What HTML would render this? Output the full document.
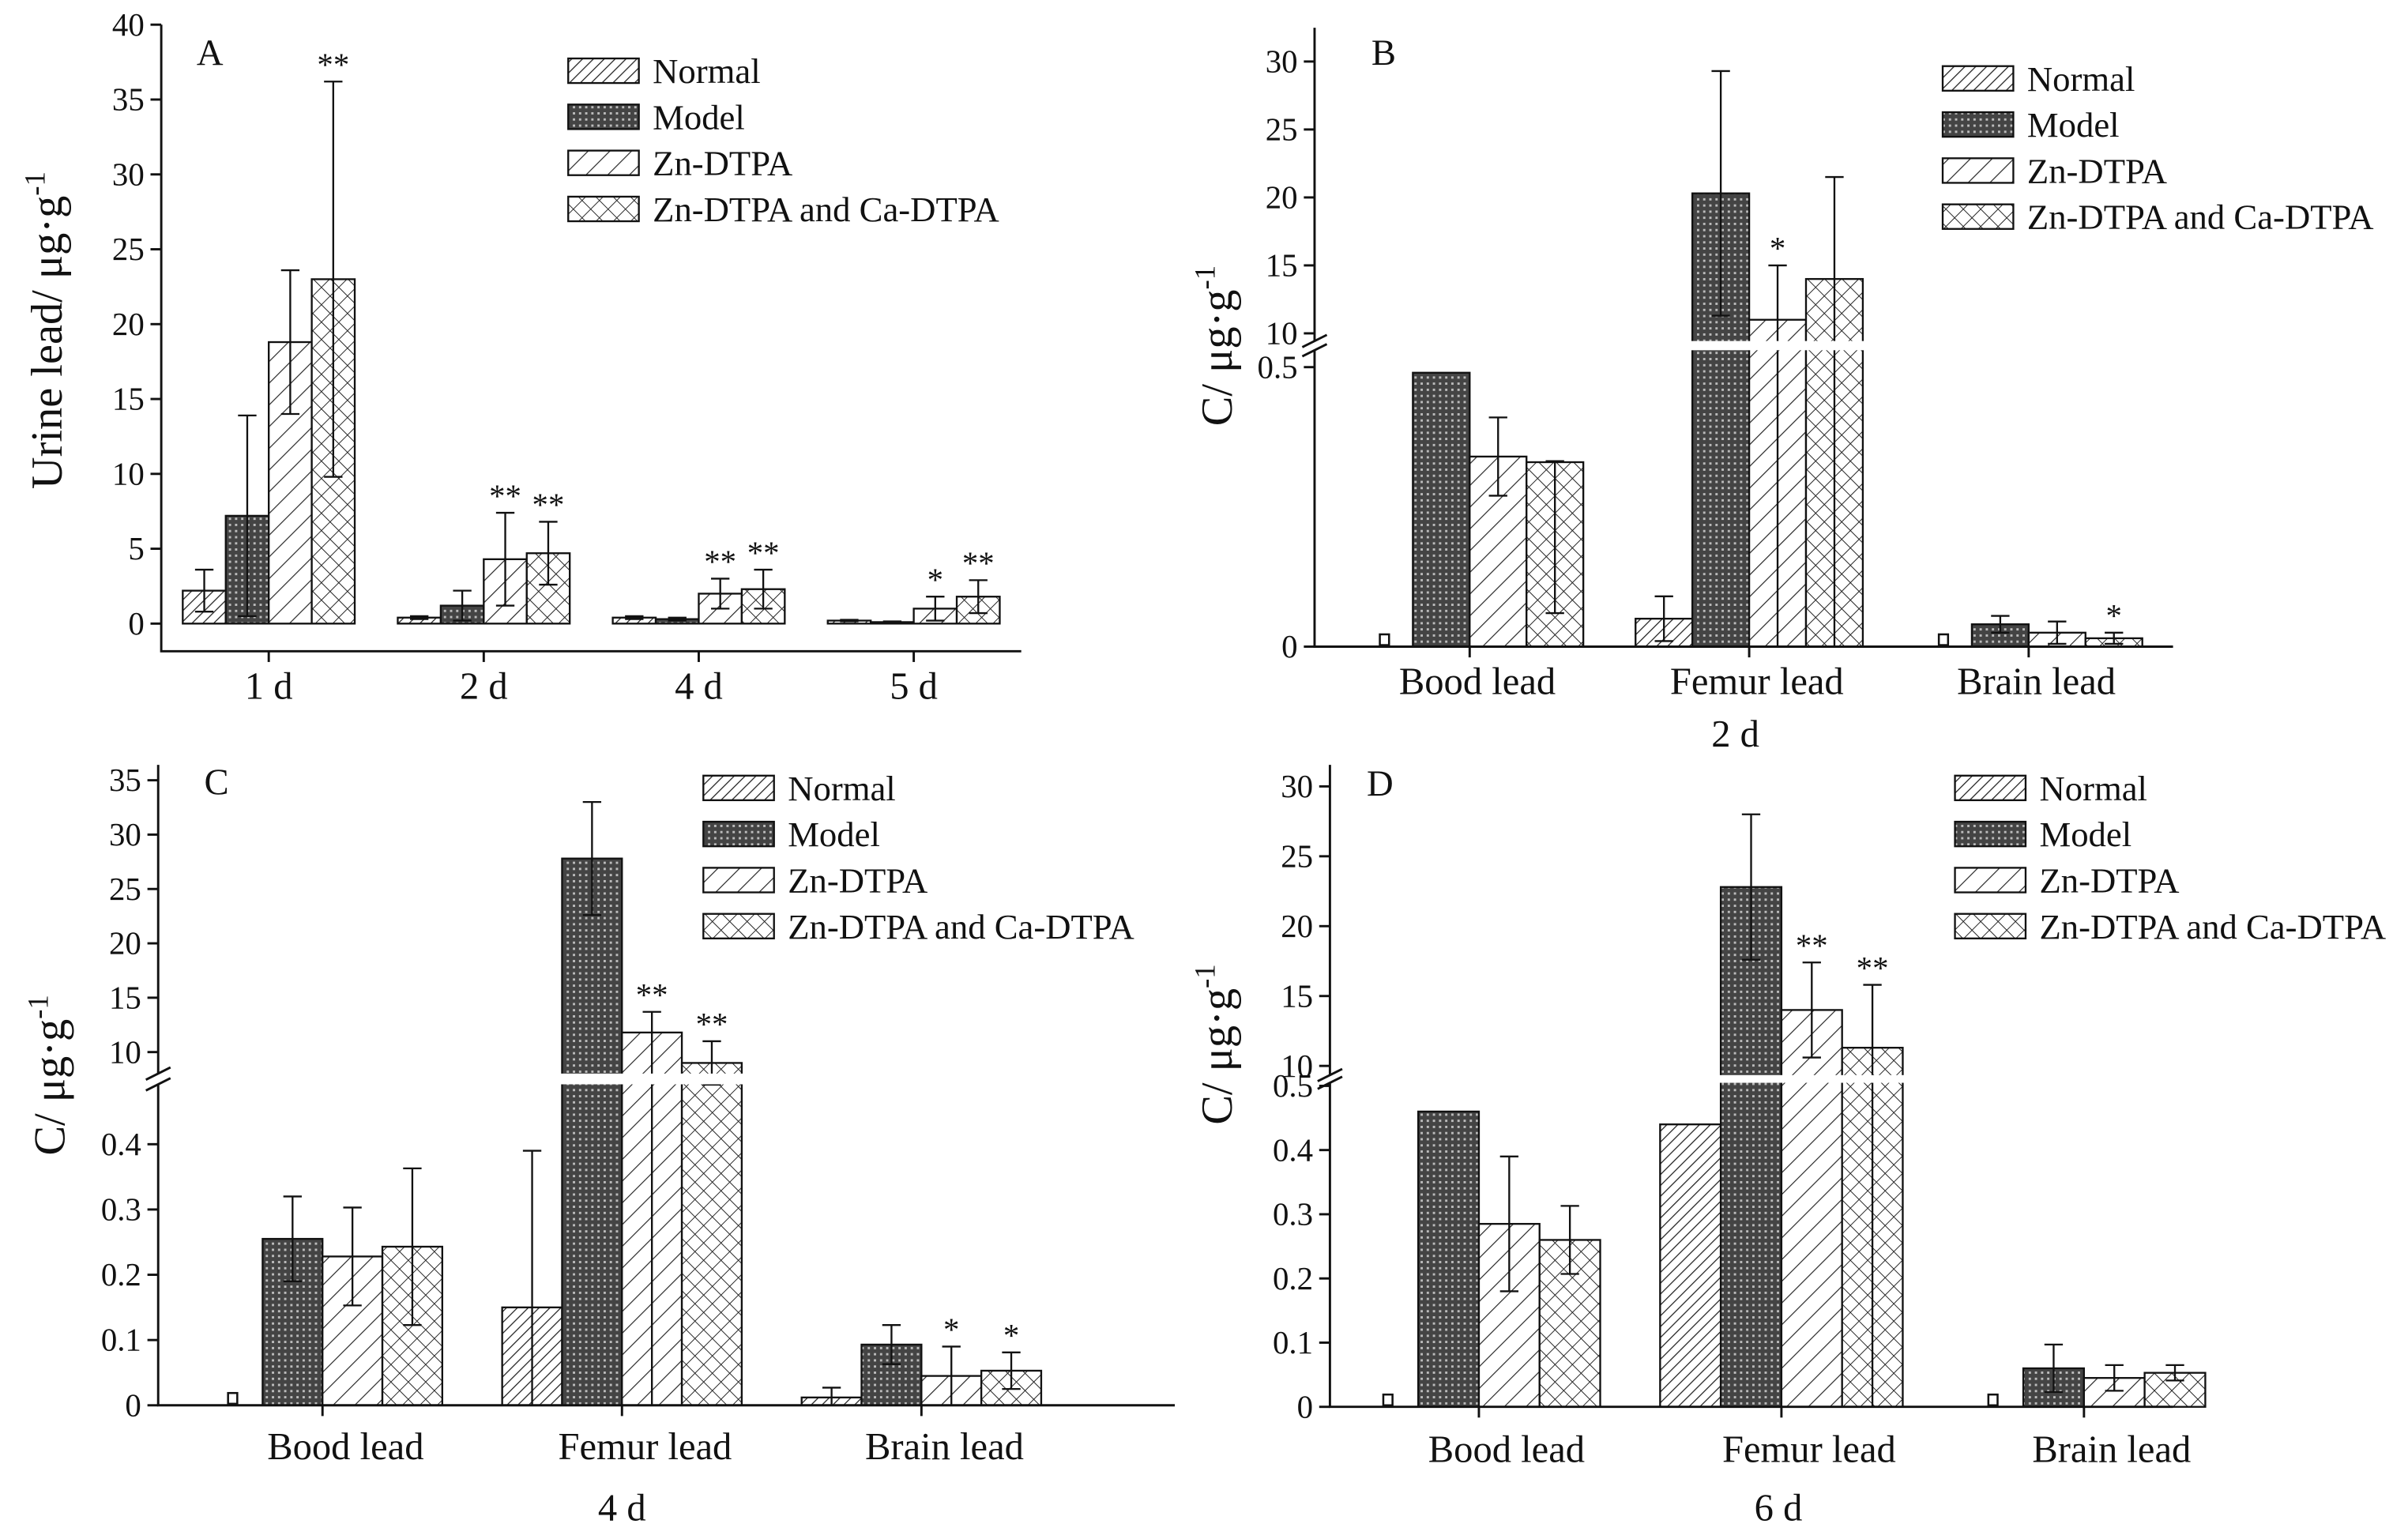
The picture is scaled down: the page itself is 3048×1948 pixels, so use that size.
<!DOCTYPE html>
<html><head><meta charset="utf-8">
<style>
html,body{margin:0;padding:0;background:#fff;}
svg{display:block;}
text{font-family:"Liberation Serif",serif;fill:#111;}
</style></head>
<body>
<svg id="fig" xmlns="http://www.w3.org/2000/svg" width="3048" height="1948" viewBox="0 0 1568 1002">
<defs>
<pattern id="pNormal" patternUnits="userSpaceOnUse" width="5" height="5" patternTransform="rotate(45)">
<rect width="5" height="5" fill="#fff"/><line x1="0" y1="0" x2="0" y2="5" stroke="#222" stroke-width="1.3"/></pattern>
<pattern id="pModel" patternUnits="userSpaceOnUse" width="4" height="4">
<rect width="4" height="4" fill="#444"/><rect x="1" y="1" width="1.5" height="1.5" fill="#bbb"/></pattern>
<pattern id="pZn" patternUnits="userSpaceOnUse" width="10" height="10" patternTransform="rotate(45)">
<rect width="10" height="10" fill="#fff"/><line x1="0" y1="0" x2="0" y2="10" stroke="#222" stroke-width="1.2"/></pattern>
<pattern id="pZnCa" patternUnits="userSpaceOnUse" width="8" height="8" patternTransform="rotate(45)">
<rect width="8" height="8" fill="#fff"/><line x1="0" y1="0" x2="0" y2="8" stroke="#222" stroke-width="1"/><line x1="0" y1="0" x2="8" y2="0" stroke="#222" stroke-width="1"/></pattern>
</defs>
<g id="root"></g>
</svg>
<script>
const seriesNames = ["Normal","Model","Zn-DTPA","Zn-DTPA and Ca-DTPA"];
const aCats = ["1 d","2 d","4 d","5 d"];
const aMeans = [[2.2,7.2,18.8,23.0],[0.4,1.2,4.3,4.7],[0.4,0.3,2.0,2.3],[0.2,0.1,1.0,1.8]];
const aErrs = [[1.4,6.7,4.8,13.2],[0.1,1.0,3.1,2.1],[0.1,0.1,1.0,1.3],[0.05,0.05,0.8,1.1]];
const aStars = [["","","","**"],["","","**","**"],["","","**","**"],["","","*","**"]];
const tissueCats = ["Bood lead","Femur lead","Brain lead"];
const bMeans = [[0.03,0.49,0.34,0.33],[0.05,20.3,11.0,14.0],[0.025,0.04,0.025,0.015]];
const bErrs = [[0,0,0.07,0.27],[0.04,9.0,4.0,7.5],[0,0.015,0.02,0.01]];
const bStars = [["","","",""],["","","*",""],["","","","*"]];
const bMarker = [[true,false,false,false],[false,false,false,false],[true,false,false,false]];
const cMeans = [[0.02,0.255,0.228,0.243],[0.15,27.8,11.8,9.0],[0.012,0.093,0.045,0.053]];
const cErrs = [[0,0.065,0.075,0.12],[0.24,5.2,1.9,2.0],[0.015,0.03,0.045,0.028]];
const cStars = [["","","",""],["","","**","**"],["","","*","*"]];
const cMarker = [[true,false,false,false],[false,false,false,false],[false,false,false,false]];
const dMeans = [[0.03,0.46,0.285,0.26],[0.44,22.8,14.0,11.3],[0.03,0.06,0.045,0.053]];
const dErrs = [[0,0,0.105,0.053],[0,5.2,3.4,4.5],[0,0.037,0.02,0.012]];
const dStars = [["","","",""],["","","**","**"],["","","",""]];
const dMarker = [[true,false,false,false],[false,false,false,false],[true,false,false,false]];
const aTicks = [0,5,10,15,20,25,30,35,40];
const bLowTicks = [0,0.5], bUpTicks = [10,15,20,25,30];
const cLowTicks = [0,0.1,0.2,0.3,0.4], cUpTicks = [10,15,20,25,30,35];
const dLowTicks = [0,0.1,0.2,0.3,0.4,0.5], dUpTicks = [10,15,20,25,30];

const NS="http://www.w3.org/2000/svg";
const root=document.getElementById('root');
const fills=["url(#pNormal)","url(#pModel)","url(#pZn)","url(#pZnCa)"];
function mk(tag,attrs,parent){const e=document.createElementNS(NS,tag);for(const k in attrs)e.setAttribute(k,attrs[k]);(parent||root).appendChild(e);return e;}

function panel(cfg){
  const g=mk('g',{});
  
  
  const broken=cfg.upMin!==undefined;
  function y(v){
    if(!broken) return cfg.y0 - v*cfg.lk;
    if(v<=cfg.lowMax*1.2 && v<cfg.upMin) return cfg.y0 - v*cfg.lk;
    return cfg.upY - (v-cfg.upMin)*cfg.uk;
  }
  function xc(i){return cfg.c0 + i*cfg.step;}
  cfg.means.forEach((grp,i)=>{
    grp.forEach((v,s)=>{
      const bx=xc(i)-2*cfg.bw+s*cfg.bw;
      const yt=y(v);
      const marker=cfg.marker&&cfg.marker[i][s];
      let r;
      if(marker){ r=mk('rect',{x:bx+cfg.bw/2-3,y:cfg.y0-8,width:6,height:7,fill:'#fff',stroke:'#111','stroke-width':1.3},g); }
      else { r=mk('rect',{x:bx,y:yt,width:cfg.bw,height:cfg.y0-yt,fill:fills[s],stroke:'#111','stroke-width':1.2},g); }
      
      
      const e=cfg.errs[i][s];
      const cx=bx+cfg.bw/2;
      if(e>0){
        const lo=Math.max(0,v-e);
        const ylo=(broken&&v>=cfg.upMin&&lo<cfg.upMin)?cfg.y0:y(lo);
        const yhi=y(v+e);
        const eb=mk('path',{d:`M${cx},${ylo}V${yhi}M${cx-6},${yhi}H${cx+6}M${cx-6},${ylo}H${cx+6}`,stroke:'#111','stroke-width':1.2,fill:'none'},g);
        
        
      }
      const st=cfg.stars[i][s];
      if(st){
        const t=mk('text',{x:cx,y:y(v+e)-4,'text-anchor':'middle','font-size':21},g);
        t.textContent=st;
        
        
      }
    });
  });
  if(broken){
    mk('rect',{x:cfg.x0+1,y:cfg.brTop,width:cfg.x1-cfg.x0,height:cfg.brBot-cfg.brTop,fill:'#fff'},g);
  }
  const ax=mk('path',{d:`M${cfg.x0},${cfg.yTop}V${cfg.axisY}H${cfg.x1}`,stroke:'#111','stroke-width':1.5,fill:'none'},g);
  
  
  if(broken){
    mk('rect',{x:cfg.x0-8,y:cfg.brTop,width:16,height:cfg.brBot-cfg.brTop,fill:'#fff'},g);
    mk('path',{d:`M${cfg.x0-8},${cfg.brTop+4}L${cfg.x0+8},${cfg.brTop-4}M${cfg.x0-8},${cfg.brBot+4}L${cfg.x0+8},${cfg.brBot-4}`,stroke:'#111','stroke-width':1.5},g);
  }
  function tick(v,label){
    const ty=y(v);
    mk('line',{x1:cfg.x0-7,y1:ty,x2:cfg.x0,y2:ty,stroke:'#111','stroke-width':1.5},g);
    const t=mk('text',{x:cfg.x0-11,y:ty+7,'text-anchor':'end','font-size':21},g);
    t.textContent=label;
    
    
  }
  if(!broken){ cfg.ticks.forEach(v=>tick(v,String(v))); }
  else { cfg.lowTicks.forEach(v=>tick(v,String(v))); cfg.upTicks.forEach(v=>tick(v,String(v))); }
  cfg.cats.forEach((c,i)=>{
    mk('line',{x1:xc(i),y1:cfg.axisY,x2:xc(i),y2:cfg.axisY+7,stroke:'#111','stroke-width':1.5},g);
    const t=mk('text',{x:xc(i)+(cfg.lblOff||0),y:cfg.axisY+(cfg.lblDy||31),'text-anchor':'middle','font-size':25},g);
    t.textContent=c;
    
    
  });
  if(cfg.day){
    const t=mk('text',{x:cfg.dayX,y:cfg.dayY,'text-anchor':'middle','font-size':25},g);
    t.textContent=cfg.day;
    
    
  }
  const yt=mk('text',{transform:`translate(${cfg.ytX},${cfg.ytY}) rotate(-90)`,'text-anchor':'middle','font-size':29},g);
  yt.innerHTML=cfg.ytitle+'<tspan dy="-11" font-size="19">-1</tspan>';
  
  
  const pl=mk('text',{x:cfg.lx,y:cfg.ly,'font-size':24},g);
  pl.textContent=cfg.letter;
  
  
  seriesNames.forEach((n,s)=>{
    const ly=cfg.legY+s*30;
    const r=mk('rect',{x:cfg.legX,y:ly-14,width:46,height:16,fill:fills[s],stroke:'#111','stroke-width':1.2},g);
    
    
    const t=mk('text',{x:cfg.legX+55,y:ly+2,'font-size':23},g);
    t.textContent=n;
    
    
  });
}

panel({name:'panel-a',key:'a',letter:'A',lx:128,ly:42,x0:105,x1:665,yTop:16,axisY:424,y0:406,lk:9.75,
  c0:175,step:140,bw:28,cats:aCats,means:aMeans,errs:aErrs,stars:aStars,ticks:aTicks,
  ytitle:'Urine lead/ μg·g',ytX:40,ytY:215,legX:370,legY:52});
panel({name:'panel-b',key:'b',letter:'B',lx:893,ly:42,x0:856,x1:1415,yTop:18,axisY:421,y0:421,lk:364,lowMax:0.5,
  upMin:10,upY:217,uk:8.85,brTop:222,brBot:228,
  c0:957,step:182,bw:37,lblOff:5,cats:tissueCats,means:bMeans,errs:bErrs,stars:bStars,marker:bMarker,
  lowTicks:bLowTicks,upTicks:bUpTicks,ytitle:'C/ μg·g',ytX:802,ytY:225,legX:1265,legY:57,day:'2 d',dayX:1130,dayY:486});
panel({name:'panel-c',key:'c',letter:'C',lx:133,ly:517,x0:103,x1:765,yTop:498,axisY:915,y0:915,lk:425,lowMax:0.4,
  upMin:10,upY:685,uk:7.08,brTop:699,brBot:706,lblDy:35,
  c0:210,step:195,bw:39,lblOff:15,cats:tissueCats,means:cMeans,errs:cErrs,stars:cStars,marker:cMarker,
  lowTicks:cLowTicks,upTicks:cUpTicks,ytitle:'C/ μg·g',ytX:42,ytY:700,legX:458,legY:519,day:'4 d',dayX:405,dayY:990});
panel({name:'panel-d',key:'d',letter:'D',lx:890,ly:518,x0:866,x1:1415,yTop:498,axisY:916,y0:916,lk:418,lowMax:0.5,
  upMin:10,upY:694,uk:9.1,brTop:700,brBot:705,lblDy:36,
  c0:963,step:197,bw:39.5,lblOff:18,cats:tissueCats,means:dMeans,errs:dErrs,stars:dStars,marker:dMarker,
  lowTicks:dLowTicks,upTicks:dUpTicks,ytitle:'C/ μg·g',ytX:802,ytY:680,legX:1273,legY:519,day:'6 d',dayX:1158,dayY:990});
</script>
</body></html>
